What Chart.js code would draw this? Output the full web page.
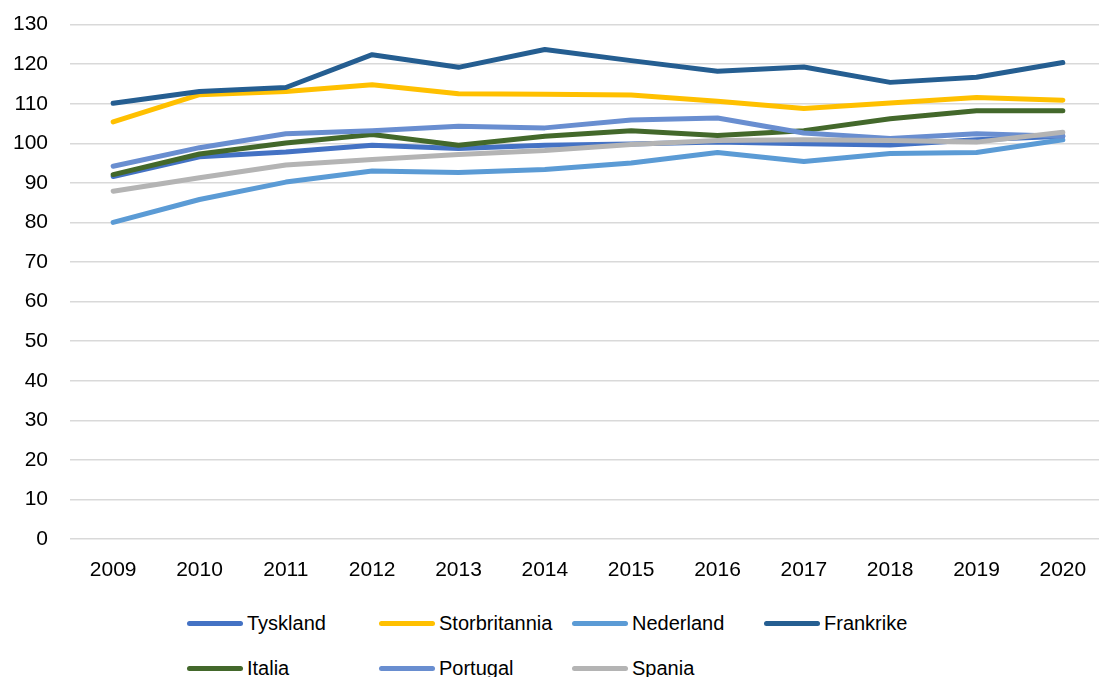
<!DOCTYPE html>
<html>
<head>
<meta charset="utf-8">
<script src="https://cdn.jsdelivr.net/npm/chart.js@4.4.1/dist/chart.umd.min.js"></script>
<style>
  html, body { margin: 0; padding: 0; background: #fff; overflow: hidden; }
  body { width: 1099px; height: 677px; position: relative; }
  #chart { position: absolute; left: 0; top: -10px; }
  #legend { position: absolute; left: 0; top: 600px; width: 1099px; height: 77px;
            font-family: "Liberation Sans", Arial, sans-serif; font-size: 20px; color: #000; }
  .item { position: absolute; display: flex; align-items: center; height: 24px; white-space: nowrap; }
  .swatch { width: 56px; height: 5px; border-radius: 3px; margin-right: 4px; }
</style>
</head>
<body>
<canvas id="chart" width="1106" height="610"></canvas>
<div id="legend"></div>
<script>
// ======================
// DATA
// ======================
const years = ["2009", "2010", "2011", "2012", "2013", "2014",
  "2015", "2016", "2017", "2018", "2019", "2020"];

const tyskland      = [91.6, 96.6, 97.8, 99.5, 98.7, 99.5, 99.8, 100.3, 99.9, 99.6, 100.9, 101.8];
const storbritannia = [105.4, 112.3, 113.1, 114.8, 112.5, 112.4, 112.2, 110.6, 108.8, 110.2, 111.6, 110.9];
const nederland     = [80.0, 85.8, 90.2, 93.0, 92.6, 93.4, 95.0, 97.7, 95.4, 97.4, 97.7, 100.9];
const frankrike     = [110.1, 113.1, 114.1, 122.4, 119.2, 123.7, 120.9, 118.2, 119.3, 115.4, 116.7, 120.4];
const italia        = [92.1, 97.3, 100.1, 102.2, 99.5, 101.8, 103.2, 102.0, 103.2, 106.2, 108.2, 108.2];
const portugal      = [94.2, 98.9, 102.4, 103.2, 104.3, 103.9, 105.9, 106.4, 102.6, 101.2, 102.4, 101.8];
const spania        = [87.9, 91.3, 94.5, 95.9, 97.2, 98.2, 99.7, 100.7, 100.9, 100.7, 100.3, 102.8];

const yTicks = [0, 10, 20, 30, 40, 50, 60, 70, 80, 90, 100, 110, 120, 130];

const series = [
  { name: "Tyskland",      data: tyskland,      color: "#4472C4" },
  { name: "Storbritannia", data: storbritannia, color: "#FFC000" },
  { name: "Nederland",     data: nederland,     color: "#5B9BD5" },
  { name: "Frankrike",     data: frankrike,     color: "#255E91" },
  { name: "Italia",        data: italia,        color: "#43682B" },
  { name: "Portugal",      data: portugal,      color: "#698ED0" },
  { name: "Spania",        data: spania,        color: "#B4B4B4" }
];

// ======================
// CHART
// ======================
const tickFont = { family: "'Liberation Sans', Arial, sans-serif", size: 21 };

new Chart(document.getElementById("chart"), {
  type: "line",
  data: {
    labels: years,
    datasets: series.map((s, i) => ({
      label: s.name,
      data: s.data,
      borderColor: s.color,
      backgroundColor: s.color,
      borderWidth: 5,
      borderCapStyle: "round",
      borderJoinStyle: "round",
      pointRadius: 0,
      tension: 0,
      order: -i   // later series on top, like Excel
    }))
  },
  options: {
    responsive: false,
    animation: false,
    layout: { padding: { top: 13, right: 0, bottom: 0, left: 0 } },
    plugins: { legend: { display: false }, tooltip: { enabled: false } },
    scales: {
      x: {
        offset: true,
        grid: { display: false, drawTicks: false },
        border: { display: false },
        ticks: { color: "#000", font: tickFont, padding: 19, maxRotation: 0 },
        afterFit: s => { s.height = 61; }
      },
      y: {
        min: yTicks[0],
        max: yTicks[yTicks.length - 1],
        afterBuildTicks: s => { s.ticks = yTicks.map(v => ({ value: v })); },
        grid: { color: "#D9D9D9", lineWidth: 1.5, drawTicks: false },
        border: { display: false },
        ticks: { color: "#000", font: tickFont, padding: 22 },
        afterFit: s => { s.width = 70; }
      }
    }
  }
});

// ======================
// LEGEND (Excel style, fixed columns)
// ======================
const legend = document.getElementById("legend");
const colX = [187, 379, 572, 764];
const rowY = [11, 56];
series.forEach((s, i) => {
  const item = document.createElement("div");
  item.className = "item";
  item.style.left = colX[i % 4] + "px";
  item.style.top = rowY[Math.floor(i / 4)] + "px";
  item.innerHTML = `<span class="swatch" style="background:${s.color}"></span>${s.name}`;
  legend.appendChild(item);
});
</script>
</body>
</html>
